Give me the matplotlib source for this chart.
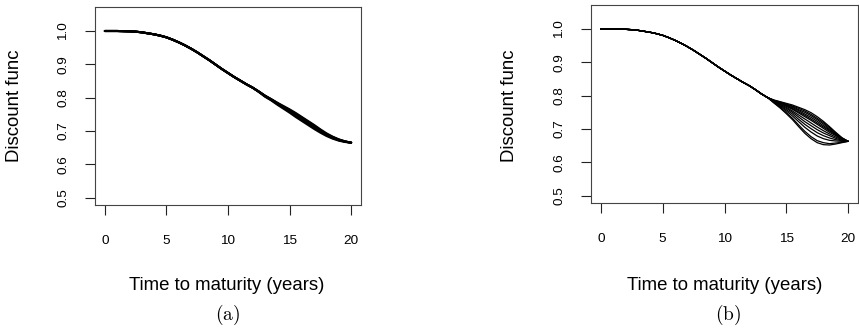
import matplotlib
matplotlib.use("Agg")
import matplotlib.pyplot as plt
import numpy as np

plt.rcParams['font.family'] = ['Liberation Sans', 'DejaVu Sans']
plt.rcParams['mathtext.fontset'] = 'cm'

# shared early part of the discount function (t = 0 .. 11.5 step 0.5)
t_base = [0, 0.5, 1, 1.5, 2, 2.5, 3, 3.5, 4, 4.5, 5, 5.5, 6, 6.5, 7, 7.5,
          8, 8.5, 9, 9.5, 10, 10.5, 11, 11.5]
d_base = [1.000, 1.000, 1.000, 0.9995, 0.999, 0.998, 0.996, 0.993, 0.990, 0.986,
          0.981, 0.974, 0.966, 0.957, 0.947, 0.936, 0.924, 0.912, 0.899, 0.886,
          0.874, 0.862, 0.851, 0.840]

# panel (a): tails from t = 12 .. 20 step 0.5
t_tail_a = [12, 12.5, 13, 13.5, 14, 14.5, 15, 15.5, 16, 16.5, 17, 17.5, 18,
            18.5, 19, 19.5, 20]
tails_a = [
    [0.830, 0.819, 0.806, 0.796, 0.785, 0.775, 0.765, 0.754, 0.742, 0.730, 0.718, 0.705, 0.693, 0.683, 0.675, 0.669, 0.665],
    [0.830, 0.818, 0.806, 0.795, 0.784, 0.773, 0.763, 0.752, 0.740, 0.728, 0.716, 0.703, 0.691, 0.682, 0.674, 0.669, 0.665],
    [0.830, 0.818, 0.806, 0.795, 0.783, 0.772, 0.762, 0.750, 0.738, 0.726, 0.714, 0.702, 0.690, 0.681, 0.674, 0.668, 0.665],
    [0.830, 0.818, 0.805, 0.794, 0.782, 0.771, 0.760, 0.748, 0.736, 0.724, 0.712, 0.700, 0.689, 0.680, 0.673, 0.668, 0.665],
    [0.830, 0.818, 0.804, 0.793, 0.781, 0.770, 0.758, 0.746, 0.734, 0.722, 0.710, 0.698, 0.688, 0.679, 0.672, 0.668, 0.665],
    [0.830, 0.817, 0.803, 0.792, 0.779, 0.767, 0.755, 0.742, 0.730, 0.718, 0.706, 0.695, 0.685, 0.677, 0.671, 0.667, 0.665],
]

# panel (b): common part continues to t = 13.5, then tails t = 14 .. 20
t_mid_b = [12, 12.5, 13, 13.5]
d_mid_b = [0.830, 0.818, 0.805, 0.794]
t_tail_b = [14, 14.5, 15, 15.5, 16, 16.5, 17, 17.5, 18, 18.5, 19, 19.5, 20]
tails_b = [
    [0.787, 0.782, 0.777, 0.772, 0.765, 0.758, 0.749, 0.737, 0.723, 0.707, 0.690, 0.674, 0.663],
    [0.786, 0.781, 0.775, 0.769, 0.762, 0.754, 0.744, 0.732, 0.719, 0.704, 0.688, 0.673, 0.663],
    [0.786, 0.780, 0.773, 0.767, 0.758, 0.750, 0.740, 0.728, 0.715, 0.700, 0.686, 0.672, 0.663],
    [0.785, 0.779, 0.771, 0.764, 0.755, 0.745, 0.735, 0.723, 0.710, 0.697, 0.684, 0.671, 0.663],
    [0.785, 0.777, 0.770, 0.761, 0.751, 0.741, 0.730, 0.718, 0.706, 0.694, 0.682, 0.670, 0.663],
    [0.784, 0.776, 0.768, 0.759, 0.748, 0.737, 0.726, 0.714, 0.702, 0.690, 0.680, 0.669, 0.663],
    [0.783, 0.774, 0.765, 0.754, 0.742, 0.730, 0.718, 0.706, 0.695, 0.685, 0.676, 0.668, 0.663],
    [0.782, 0.772, 0.762, 0.750, 0.736, 0.722, 0.710, 0.698, 0.688, 0.680, 0.672, 0.666, 0.663],
    [0.781, 0.770, 0.758, 0.745, 0.729, 0.714, 0.701, 0.689, 0.680, 0.673, 0.668, 0.665, 0.663],
    [0.780, 0.768, 0.754, 0.739, 0.722, 0.705, 0.691, 0.679, 0.671, 0.666, 0.664, 0.663, 0.663],
    [0.779, 0.765, 0.749, 0.732, 0.712, 0.693, 0.677, 0.665, 0.659, 0.656, 0.658, 0.660, 0.663],
    [0.778, 0.763, 0.746, 0.728, 0.707, 0.687, 0.671, 0.659, 0.653, 0.652, 0.655, 0.659, 0.663],
]

x_ticks = [0, 5, 10, 15, 20]
y_ticks = [0.5, 0.6, 0.7, 0.8, 0.9, 1.0]
y_ticklabels = ["0.5", "0.6", "0.7", "0.8", "0.9", "1.0"]
xlabel = "Time to maturity (years)"
ylabel = "Discount func"
panel_labels = [r"$\mathrm{(a)}$", r"$\mathrm{(b)}$"]

W, H = 859, 330
fig = plt.figure(figsize=(W / 100, H / 100), dpi=100)

def px_axes(x0, y0, x1, y1):
    return fig.add_axes([x0 / W, 1 - y1 / H, (x1 - x0) / W, (y1 - y0) / H])

ax_a = px_axes(95, 7, 361, 205)
ax_b = px_axes(591, 5, 858, 203)

for tail in tails_a:
    ax_a.plot(t_base + t_tail_a, d_base + tail, color='black', lw=1.5,
              solid_capstyle='round', solid_joinstyle='round')

for tail in tails_b:
    ax_b.plot(t_base + t_mid_b + t_tail_b, d_base + d_mid_b + tail, color='black',
              lw=0.9, solid_capstyle='round', solid_joinstyle='round')

for ax in (ax_a, ax_b):
    ax.set_xlim(-0.8, 20.8)
    ax.set_ylim(0.478, 1.072)
    ax.set_xticks(x_ticks)
    ax.set_xticklabels([str(v) for v in x_ticks])
    ax.set_yticks(y_ticks)
    ax.set_yticklabels(y_ticklabels, rotation=90, va='center')
    ax.tick_params(axis='both', direction='out', length=7.5, width=0.8,
                   colors='#222222', labelsize=9.7, labelcolor='black')
    ax.tick_params(axis='x', pad=14)
    ax.tick_params(axis='y', pad=11)
    for s in ax.spines.values():
        s.set_linewidth(0.8)
        s.set_color('#444444')

centers = [(227, 15, 228), (725, 510, 728)]
for (xc, yc_x, pc), pl in zip(centers, panel_labels):
    fig.text(xc / W, 1 - 285 / H, xlabel, ha='center', va='center', fontsize=13.4)
    fig.text(yc_x / W, 1 - 106 / H, ylabel, ha='center', va='center',
             rotation=90, fontsize=13.4)
    fig.text(pc / W, 1 - 315 / H, pl, ha='center', va='center', fontsize=14)

fig.savefig("out.png", dpi=100)
